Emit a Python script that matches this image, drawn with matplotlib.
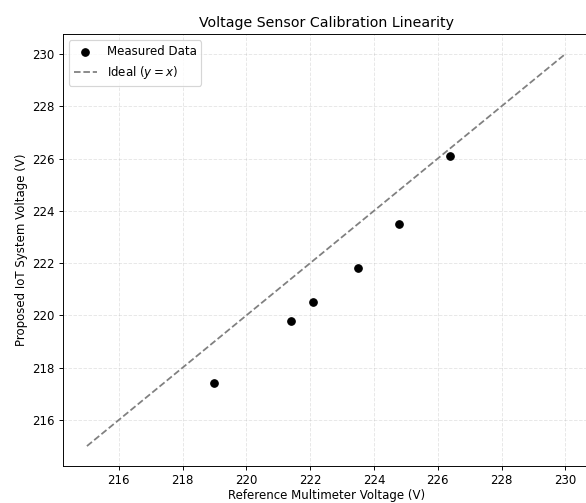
import matplotlib
matplotlib.use("Agg")
import matplotlib.pyplot as plt

reference_v = [219.0, 221.4, 222.1, 223.5, 224.8, 226.4]
measured_v = [217.4, 219.8, 220.5, 221.8, 223.5, 226.1]
ideal_v = [215, 230]

DPI = 85
fig = plt.figure(figsize=(586 / DPI, 503 / DPI), dpi=DPI)
ax = fig.add_axes([0.1075, 0.0742, 0.898, 0.8574])
ax.scatter(reference_v, measured_v, color="black", s=40, zorder=3, label="Measured Data")
ax.plot(ideal_v, ideal_v, linestyle="--", color="gray", label="Ideal ($y=x$)")
ax.set_title("Voltage Sensor Calibration Linearity")
ax.set_xlabel("Reference Multimeter Voltage (V)", labelpad=1.5)
ax.set_ylabel("Proposed IoT System Voltage (V)")
ax.grid(True, linestyle="--", alpha=0.3)
ax.legend(loc="upper left")
fig.savefig("out.png", dpi=DPI)
